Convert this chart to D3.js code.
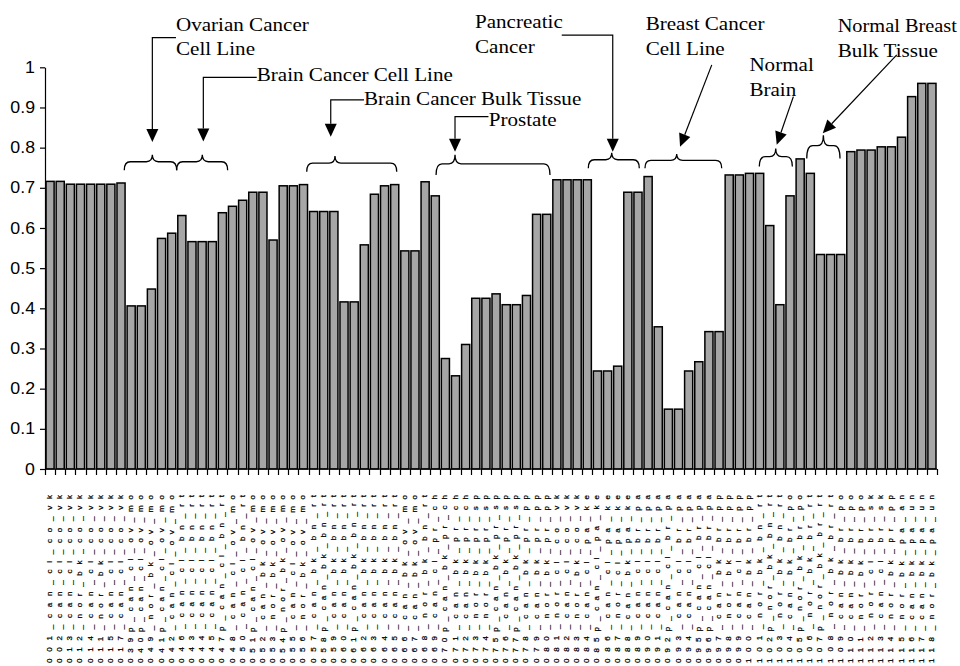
<!DOCTYPE html>
<html><head><meta charset="utf-8">
<script src="https://cdn.jsdelivr.net/npm/d3@7/dist/d3.min.js"></script>
<style>
html,body{margin:0;padding:0;background:#fff;}
svg{display:block;}
</style>
</head><body>
<svg id="chart" width="960" height="666"></svg>
<script>
// ---------- data ----------
const categories = [
"001_can_cl_co_vk","002_can_cl_co_vk","013_can_cl_co_vk","012_nor_bk_co_vk","014_can_cl_co_vk","011_nor_bk_co_vk","015_can_cl_co_vk","017_can_cl_co_vk",
"039p_can_cl_ov_mo","040p_can_cl_ov_mo","049_nor_bk_ov_mo","041p_can_cl_ov_mo","042_can_cl_ov_mo",
"046_can_cl_bn_rt","043_can_cl_bn_rt","044_can_cl_bn_rt","045_can_cl_bn_rt","047p_can_cl_bn_rt",
"048_can_cl_ov_mo","050_can_cl_bn_rt","051p_can_cl_ov_mo","052_can_bk_ov_mo","053_nor_bk_ov_mo","054p_nor_bk_ov_mo","055_can_cl_ov_mo","056_nor_bk_ov_mo",
"057_can_bk_bn_rt","058p_can_bk_bn_rt","059_can_bk_bn_rt","060_can_bk_bn_rt","061p_can_bk_bn_rt","062_can_bk_bn_rt","063_can_bk_bn_rt","064_can_bk_bn_rt","065_can_bk_bn_rt",
"066_can_bk_ov_mo","067_can_bk_ov_mo","068_nor_bk_bn_rt",
"069_can_cl_pr_ch","070p_can_bk_pr_ch","071_can_bk_pr_ch","072_can_bk_pr_ch","073_nor_bk_pr_sp","074_nor_bk_pr_sp","075p_can_bk_pr_sp","076_can_bk_pr_sp","077p_can_bk_pr_sp","078_can_bk_pr_pp","079_can_bk_pr_pp","080_nor_bk_pr_pp",
"081_nor_cl_co_vk","082_can_cl_co_vk","083_nor_bk_co_vk",
"084_can_cl_pa_ke","085p_can_cl_pa_ke","086_can_cl_pa_ke","087_nor_cl_pa_ke","088_can_bk_pa_ke",
"089_can_cl_br_pa","090_can_cl_br_pa","091_can_cl_br_pa","092p_can_cl_br_pa","093_can_cl_br_pa","094_can_cl_br_pa","095p_can_cl_br_pa","096p_can_cl_br_pa",
"097_can_bk_br_pp","098_nor_bk_br_pp","099_can_cl_br_pp","100_can_bk_br_pp",
"101_nor_bk_bn_rt","102p_nor_bk_bn_rt","103_nor_bk_bn_rt",
"104_can_bk_br_po","105p_nor_bk_br_po",
"106_nor_bk_br_rt","107p_nor_bk_br_rt","108_nor_bk_br_rt",
"109_can_bk_br_po","110_can_bk_br_po","111_nor_bk_br_po","112_nor_cl_br_sk","113_can_cl_br_sk","114_nor_bk_pr_pp","115_nor_bk_pa_an","116_can_bk_pa_un","117_can_bk_pa_un","118_nor_bk_pa_un"
];
const values = [
0.716,0.716,0.709,0.709,0.709,0.709,0.709,0.712,
0.406,0.406,0.448,0.574,0.587,
0.631,0.566,0.566,0.566,0.638,
0.654,0.669,0.689,0.689,0.570,0.705,0.705,0.708,
0.641,0.641,0.641,0.416,0.416,0.558,0.684,0.705,0.708,
0.543,0.543,0.715,
0.680,0.275,0.232,0.310,0.425,0.425,0.436,0.409,0.409,0.432,0.634,0.634,
0.720,0.720,0.720,
0.720,0.244,0.244,0.256,0.689,
0.689,0.728,0.354,0.149,0.149,0.244,0.267,0.342,
0.342,0.732,0.732,0.736,
0.736,0.606,0.409,
0.680,0.772,
0.736,0.534,0.534,
0.534,0.790,0.794,0.794,0.802,0.802,0.826,0.927,0.960,0.960
];
const yTicks = [0,0.1,0.2,0.3,0.4,0.5,0.6,0.7,0.8,0.9,1];
const yTickLabels = ["0","0.1","0.2","0.3","0.4","0.5","0.6","0.7","0.8","0.9","1"];

// annotation texts
const annoLabels = [
  ["Ovarian Cancer","Cell Line"],
  ["Brain Cancer Cell Line"],
  ["Brain Cancer Bulk Tissue"],
  ["Prostate"],
  ["Pancreatic","Cancer"],
  ["Breast Cancer","Cell Line"],
  ["Normal","Brain"],
  ["Normal Breast","Bulk Tissue"]
];

// ---------- layout ----------
const W = 960;
const svg = d3.select("#chart");
const mLeft = 45, mRight = 937, mTop = 67.3, mBottom = 469;
const stretch = 1.11; // the figure's text is slightly wider than tall

const x = d3.scaleBand().domain(categories).range([mLeft, mRight]).paddingInner(0.2).paddingOuter(0.1);
const y = d3.scaleLinear().domain([0, 1]).range([mBottom, mTop]);
// continuous position along the category axis, in band units
const u = d3.scaleLinear().domain([0, categories.length]).range([mLeft, mRight]);

// bars
svg.append("g").selectAll("rect").data(values).join("rect")
  .attr("x", (d, i) => x(categories[i]))
  .attr("width", x.bandwidth())
  .attr("y", d => y(d))
  .attr("height", d => y(0) - y(d))
  .attr("fill", "#a6a6a6")
  .attr("stroke", "#000")
  .attr("stroke-width", 1.5);

// y axis
const yAxis = d3.axisLeft(y).tickValues(yTicks)
  .tickFormat((d, i) => yTickLabels[i]).tickSize(5).tickSizeOuter(0).tickPadding(5);
const gy = svg.append("g").attr("transform", `translate(${mLeft},0)`).call(yAxis);
gy.selectAll("text")
  .attr("font-family", "'Liberation Sans', Arial, sans-serif").attr("font-size", 16).attr("fill", "#000")
  .attr("x", null)
  .attr("transform", `translate(-10,0) scale(${stretch},1)`);
gy.selectAll("line,path").attr("stroke", "#000").attr("stroke-width", 1.2);

// x axis line + ticks at band boundaries
const gx = svg.append("g");
gx.append("line").attr("x1", mLeft).attr("x2", mRight).attr("y1", mBottom).attr("y2", mBottom)
  .attr("stroke", "#000").attr("stroke-width", 1.2);
gx.append("g").selectAll("line").data(d3.range(categories.length + 1)).join("line")
  .attr("x1", d => Math.round(u(d)) + 0.5).attr("x2", d => Math.round(u(d)) + 0.5)
  .attr("y1", mBottom).attr("y2", mBottom + 6)
  .attr("stroke", "#000").attr("stroke-width", 1.2);

// x labels (rotated)
gx.append("g").selectAll("text").data(categories).join("text")
  .attr("transform", d => `translate(${x(d) + x.bandwidth() / 2 + 2},${mBottom + 26}) rotate(-90)`)
  .attr("text-anchor", "end")
  .attr("font-family", "'Liberation Sans', Arial, sans-serif")
  .attr("font-size", 8)
  .attr("textLength", 168)
  .attr("lengthAdjust", "spacing")
  .attr("fill", "#000")
  .attr("stroke", "#000")
  .attr("stroke-width", 0.25)
  .text(d => d);

// ---------- annotations ----------
// text anchors: [u, first baseline value, line step in value units]
const annoText = [
  [12.92, 1.090, 0.060],
  [20.89, 0.966, 0],
  [31.47, 0.906, 0],
  [43.78, 0.854, 0],
  [42.42, 1.097, 0.062],
  [59.26, 1.093, 0.062],
  [69.49, 0.991, 0.062],
  [78.20, 1.088, 0.062]
];
const ga = svg.append("g").attr("font-family", "'Liberation Serif', 'Times New Roman', serif").attr("font-size", 19).attr("fill", "#000");
annoText.forEach((a, i) => {
  annoLabels[i].forEach((line, j) => {
    const tx = u(a[0]), ty = y(a[1] - j * a[2]);
    const t = ga.append("text").text(line);
    const w = t.node().getComputedTextLength();
    // keep the text inside the picture
    const s = Math.min(stretch, (W - 3 - tx) / w);
    t.attr("transform", `translate(${tx},${ty}) scale(${s},1)`);
  });
});

// connectors: list of [u, v] points; last point is arrow tip
const connectors = [
  [[12.92, 1.074], [10.59, 1.074], [10.59, 0.814]],
  [[20.89, 0.975], [15.62, 0.975], [15.62, 0.815]],
  [[31.47, 0.919], [28.19, 0.919], [28.19, 0.827]],
  [[43.75, 0.877], [40.45, 0.877], [40.45, 0.790]],
  [[50.98, 1.080], [56.01, 1.080], [56.01, 0.790]],
  [[65.78, 1.006], [62.65, 0.802]],
  [[73.83, 0.927], [72.19, 0.807]],
  [[84.03, 1.031], [76.73, 0.836]]
];
const gc = svg.append("g");
connectors.forEach(pts => {
  const P = pts.map(p => [u(p[0]), y(p[1])]);
  const n = P.length;
  const [tx, ty] = P[n - 1], [px, py] = P[n - 2];
  const len = Math.hypot(tx - px, ty - py);
  const dx = (tx - px) / len, dy = (ty - py) / len;
  const L = 13, HW = 6;
  const bx = tx - dx * L, by = ty - dy * L;
  const line = P.slice(0, n - 1).concat([[bx, by]]);
  gc.append("path").attr("d", d3.line()(line)).attr("fill", "none").attr("stroke", "#000").attr("stroke-width", 1.2);
  gc.append("path").attr("d", d3.line()([[tx, ty], [bx - dy * HW, by + dx * HW], [bx + dy * HW, by - dx * HW]]) + "Z")
    .attr("fill", "#000");
});

// braces: [uStart, uEnd, uTip, vTip, vEnd]
const braces = [
  [7.82, 12.99, 10.59, 0.782, 0.744],
  [12.99, 18.02, 15.52, 0.782, 0.744],
  [25.82, 34.70, 28.61, 0.779, 0.740],
  [38.58, 49.82, 40.45, 0.782, 0.732],
  [53.60, 58.63, 55.91, 0.787, 0.749],
  [59.19, 66.76, 62.32, 0.784, 0.749],
  [70.47, 73.73, 72.09, 0.798, 0.753],
  [75.15, 78.43, 76.79, 0.831, 0.773]
];
const gb = svg.append("g");
braces.forEach(b => {
  const x0 = u(b[0]), x1 = u(b[1]), xt = u(b[2]);
  const yt = y(b[3]), ye = y(b[4]);
  const yf = yt + (ye - yt) * 0.45;
  const r = 6;
  const d = `M${x0},${ye} Q${x0},${yf} ${x0 + r},${yf} L${xt - r},${yf} Q${xt},${yf} ${xt},${yt} ` +
            `Q${xt},${yf} ${xt + r},${yf} L${x1 - r},${yf} Q${x1},${yf} ${x1},${ye}`;
  gb.append("path").attr("d", d).attr("fill", "none").attr("stroke", "#000").attr("stroke-width", 1.3);
});
</script>
</body></html>
